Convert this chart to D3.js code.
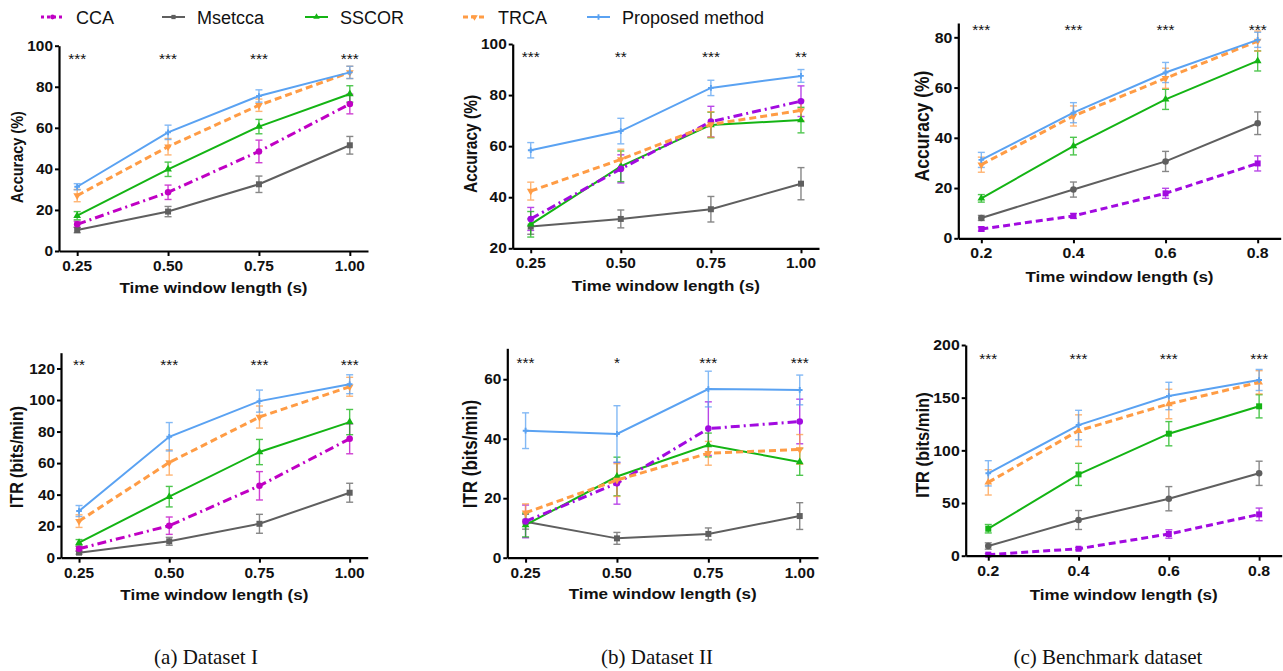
<!DOCTYPE html>
<html>
<head>
<meta charset="utf-8">
<script src="https://cdn.jsdelivr.net/npm/d3@7"></script>
<style>
  body { margin: 0; background: #fff; }
  svg { display: block; }
</style>
</head>
<body>
<div id="chart"></div>
<script>
// ---- data (order: CCA, Msetcca, SSCOR, TRCA, Proposed method) ----
const methods = ["CCA", "Msetcca", "SSCOR", "TRCA", "Proposed method"];
const winI = [0.25, 0.5, 0.75, 1.0];
const winBench = [0.2, 0.4, 0.6, 0.8];
const xLabelsI = ["0.25", "0.50", "0.75", "1.00"];
const xLabelsBench = ["0.2", "0.4", "0.6", "0.8"];

const accI = [[13.0, 28.6, 48.5, 71.6], [10.2, 19.2, 32.5, 51.5], [17.2, 39.8, 60.6, 76.5], [27.0, 50.8, 71.0, 87.0], [31.3, 57.8, 75.5, 87.0]];
const accIErr = [[1.5, 3.5, 5.5, 4.8], [1.3, 2.5, 4.0, 4.3], [2.0, 3.5, 3.5, 4.0], [3.0, 4.0, 3.0, 3.0], [1.5, 3.5, 3.0, 3.0]];
const accII = [[31.5, 51.1, 69.6, 77.6], [28.5, 31.5, 35.3, 45.3], [29.4, 52.1, 68.3, 70.2], [42.4, 54.8, 68.5, 74.0], [58.4, 65.9, 82.8, 87.5]];
const accIIErr = [[4.5, 5.5, 6.0, 6.0], [3.0, 3.5, 5.0, 6.3], [5.0, 6.0, 5.0, 5.0], [3.5, 4.0, 5.0, 4.0], [3.0, 5.0, 3.0, 2.5]];
const accBench = [[3.7, 8.9, 17.9, 29.8], [8.1, 19.4, 30.6, 45.8], [15.9, 36.7, 55.3, 70.6], [29.3, 48.7, 63.7, 78.5], [31.2, 50.0, 66.0, 79.0]];
const accBenchErr = [[0.8, 1.0, 2.0, 3.0], [1.0, 3.0, 4.0, 4.5], [1.5, 3.5, 4.0, 4.0], [3.0, 4.0, 4.0, 4.0], [3.0, 4.0, 4.0, 3.0]];

const itrI = [[5.7, 20.3, 45.6, 75.4], [3.2, 10.4, 21.5, 41.2], [9.5, 38.7, 67.0, 86.0], [23.2, 60.4, 89.2, 108.4], [29.6, 76.7, 99.3, 110.0]];
const itrIErr = [[1.5, 5.5, 9.0, 9.5], [1.0, 2.5, 6.0, 6.0], [2.0, 6.5, 8.0, 8.0], [4.0, 8.0, 7.0, 6.0], [3.5, 9.0, 7.0, 6.0]];
const itrII = [[12.2, 25.0, 43.4, 45.8], [12.1, 6.5, 8.0, 14.0], [11.0, 27.3, 37.9, 32.2], [15.1, 26.1, 35.1, 36.4], [42.7, 41.6, 56.7, 56.4]];
const itrIIErr = [[5.5, 7.0, 9.0, 7.5], [2.5, 2.0, 2.0, 4.5], [4.0, 6.5, 4.0, 4.5], [3.0, 5.5, 4.0, 5.0], [6.0, 9.5, 6.0, 5.0]];
const itrBench = [[1.0, 6.6, 20.6, 39.2], [9.2, 33.9, 54.1, 78.2], [25.6, 77.2, 115.8, 141.8], [69.6, 118.7, 144.0, 164.6], [78.2, 124.0, 151.6, 166.8]];
const itrBenchErr = [[1.0, 1.0, 4.0, 6.0], [3.0, 9.0, 11.5, 11.5], [4.0, 10.5, 11.5, 11.0], [12.0, 15.0, 14.0, 11.0], [12.0, 14.0, 13.0, 10.0]];

const sigAccI = ["***", "***", "***", "***"];
const sigAccII = ["***", "**", "***", "**"];
const sigAccBench = ["***", "***", "***", "***"];
const sigItrI = ["**", "***", "***", "***"];
const sigItrII = ["***", "*", "***", "***"];
const sigItrBench = ["***", "***", "***", "***"];

const captions = ["(a) Dataset I", "(b) Dataset II", "(c) Benchmark dataset"];

// ---- styles ----
const gray = "#5f5f5f", green = "#14b414", orange = "#ff9c45", blue = "#5aa2f2";
const magenta = "#c000c4", violet = "#a20ae0";
const SX = 1.1; // figures are a bit stretched horizontally in the paper

const W = 1283, H = 671;
const svg = d3.select("#chart").append("svg").attr("width", W).attr("height", H);

function txt(g, x, y, s, size, opts) {
    opts = opts || {};
    const sx = opts.sx === undefined ? SX : opts.sx;
    let tr = "translate(" + x + "," + y + ") scale(" + sx + ",1)";
    if (opts.rotate) tr += " rotate(-90)";
    return g.append("text")
        .attr("transform", tr)
        .attr("text-anchor", opts.anchor || "middle")
        .attr("font-family", opts.family || "'Liberation Sans', Arial, sans-serif")
        .attr("font-weight", opts.weight || "bold")
        .attr("font-size", size)
        .attr("fill", "#111")
        .text(s);
}

function symbolFor(name) {
    switch (name) {
        case "circle": return d3.symbol().type(d3.symbolCircle).size(34)();
        case "square": return d3.symbol().type(d3.symbolSquare).size(36)();
        case "up": return d3.symbol().type(d3.symbolTriangle).size(26)();
        case "down": return d3.symbol().type(d3.symbolTriangle).size(26)();
        case "plus": return d3.symbol().type(d3.symbolCross).size(18)();
    }
}

function drawPanel(p) {
    const g = svg.append("g");
    const x = d3.scaleLinear().domain(p.xDomain).range([p.left, p.right]);
    const y = d3.scaleLinear().domain(p.yDomain).range([p.bottom, p.top]);

    const colors = [p.ccaColor, gray, green, orange, blue];
    const dashes = [p.ccaDash, null, null, "7,4", null];
    const widths = [3, 2, 2, 3, 2];

    // error bars first, then lines
    methods.forEach((m, k) => {
        const eg = g.append("g").attr("stroke", colors[k]).attr("stroke-width", 1.4).attr("opacity", 0.75);
        p.means[k].forEach((v, i) => {
            const cx = x(p.xVals[i]), e = p.errs[k][i];
            eg.append("line").attr("x1", cx).attr("x2", cx).attr("y1", y(v - e)).attr("y2", y(v + e));
            eg.append("line").attr("x1", cx - 3.5).attr("x2", cx + 3.5).attr("y1", y(v - e)).attr("y2", y(v - e));
            eg.append("line").attr("x1", cx - 3.5).attr("x2", cx + 3.5).attr("y1", y(v + e)).attr("y2", y(v + e));
        });
    });

    const line = d3.line().x((d, i) => x(p.xVals[i])).y(d => y(d));
    const order = [1, 2, 0, 3, 4];
    order.forEach(k => {
        g.append("path")
            .datum(p.means[k])
            .attr("d", line)
            .attr("fill", "none")
            .attr("stroke", colors[k])
            .attr("stroke-width", widths[k])
            .attr("stroke-dasharray", dashes[k]);
        g.selectAll(null).data(p.means[k]).enter().append("path")
            .attr("d", symbolFor(p.markers[k]))
            .attr("transform", (d, i) => "translate(" + x(p.xVals[i]) + "," + y(d) + ")" + (p.markers[k] === "down" ? " rotate(180)" : ""))
            .attr("fill", colors[k]);
    });

    // axes
    const xAxis = d3.axisBottom(x).tickValues(p.xVals).tickFormat((d, i) => p.xLabels[i]).tickSize(5).tickSizeOuter(0);
    const yAxis = d3.axisLeft(y).tickValues(p.yTicks).tickSize(4).tickSizeOuter(0);
    const gx = g.append("g").attr("transform", "translate(0," + p.bottom + ")").call(xAxis);
    const gy = g.append("g").attr("transform", "translate(" + p.left + ",0)").call(yAxis);
    [gx, gy].forEach(a => {
        a.select(".domain").attr("stroke", "#000").attr("stroke-width", 2.2);
        a.selectAll(".tick line").attr("stroke", "#000").attr("stroke-width", 2);
        a.selectAll(".tick text").remove();
    });
    p.xVals.forEach((v, i) => txt(g, x(v), p.bottom + 20, p.xLabels[i], p.tickSize));
    p.yTicks.forEach(v => txt(g, p.left - 6, y(v) + p.tickSize * 0.36, String(v), p.tickSize, { anchor: "end" }));

    // significance stars
    p.sig.forEach((s, i) => txt(g, x(p.xVals[i]), p.starY + 8, s, 14, { weight: "normal" }));

    // titles
    txt(g, (p.left + p.right) / 2, p.xTitleY, "Time window length (s)", 15.5);
    txt(g, p.yTitleX, p.yTitleY, p.yTitle, p.yTitleSize, { rotate: true, sx: 1.15 });
}

const mkAB = ["circle", "square", "up", "down", "plus"];

const panels = [
    { left: 59, right: 368, top: 45.7, bottom: 251, xDomain: [0.2, 1.05], yDomain: [0, 100], yTicks: [0, 20, 40, 60, 80, 100],
      xVals: winI, xLabels: xLabelsI, means: accI, errs: accIErr, sig: sigAccI, starY: 56,
      yTitle: "Accuracy (%)", yTitleX: 23, yTitleY: 157, yTitleSize: 14.5, xTitleY: 293, tickSize: 14,
      ccaColor: magenta, ccaDash: "9,4,2,4", markers: mkAB },
    { left: 512.7, right: 819, top: 44, bottom: 248.3, xDomain: [0.2, 1.05], yDomain: [20, 100], yTicks: [20, 40, 60, 80, 100],
      xVals: winI, xLabels: xLabelsI, means: accII, errs: accIIErr, sig: sigAccII, starY: 54,
      yTitle: "Accuracy (%)", yTitleX: 477, yTitleY: 144, yTitleSize: 15.5, xTitleY: 291, tickSize: 14,
      ccaColor: violet, ccaDash: "9,4,2,4", markers: mkAB },
    { left: 958.3, right: 1280.7, top: 23, bottom: 238.3, xDomain: [0.15, 0.85], yDomain: [0, 85.7], yTicks: [0, 20, 40, 60, 80],
      xVals: winBench, xLabels: xLabelsBench, means: accBench, errs: accBenchErr, sig: sigAccBench, starY: 27,
      yTitle: "Accuracy (%)", yTitleX: 929, yTitleY: 126, yTitleSize: 17.5, xTitleY: 282, tickSize: 14.4,
      ccaColor: violet, ccaDash: "7,4", markers: ["square", "circle", "up", "down", "plus"] },
    { left: 61, right: 367.7, top: 352.7, bottom: 557.7, xDomain: [0.2, 1.05], yDomain: [0, 130], yTicks: [0, 20, 40, 60, 80, 100, 120],
      xVals: winI, xLabels: xLabelsI, means: itrI, errs: itrIErr, sig: sigItrI, starY: 362,
      yTitle: "ITR (bits/min)", yTitleX: 23, yTitleY: 457, yTitleSize: 16, xTitleY: 600, tickSize: 14,
      ccaColor: magenta, ccaDash: "9,4,2,4", markers: mkAB },
    { left: 507.3, right: 818, top: 348.3, bottom: 557.7, xDomain: [0.2, 1.05], yDomain: [0, 70.4], yTicks: [0, 20, 40, 60],
      xVals: winI, xLabels: xLabelsI, means: itrII, errs: itrIIErr, sig: sigItrII, starY: 360,
      yTitle: "ITR (bits/min)", yTitleX: 477, yTitleY: 454, yTitleSize: 17, xTitleY: 599, tickSize: 14,
      ccaColor: violet, ccaDash: "9,4,2,4", markers: mkAB },
    { left: 965.7, right: 1281.7, top: 345, bottom: 555.7, xDomain: [0.15, 0.85], yDomain: [0, 200], yTicks: [0, 50, 100, 150, 200],
      xVals: winBench, xLabels: xLabelsBench, means: itrBench, errs: itrBenchErr, sig: sigItrBench, starY: 356,
      yTitle: "ITR (bits/min)", yTitleX: 929, yTitleY: 445, yTitleSize: 16.5, xTitleY: 600, tickSize: 14.4,
      ccaColor: violet, ccaDash: "7,4", markers: ["square", "circle", "square", "up", "plus"] }
];

panels.forEach(drawPanel);

// ---- legend ----
const legX = [41, 162, 305, 463, 587];
const legColors = [magenta, gray, green, orange, blue];
const legDash = ["3,3", null, null, "5,3", null];
const legMk = ["circle", "square", "up", "down", "plus"];
const leg = svg.append("g");
methods.forEach((m, k) => {
    leg.append("line").attr("x1", legX[k]).attr("x2", legX[k] + 23).attr("y1", 17).attr("y2", 17)
        .attr("stroke", legColors[k]).attr("stroke-width", k === 0 || k === 3 ? 3 : 2).attr("stroke-dasharray", legDash[k]);
    leg.append("path").attr("d", d3.symbol().type(legMk[k] === "circle" ? d3.symbolCircle : legMk[k] === "square" ? d3.symbolSquare : legMk[k] === "plus" ? d3.symbolCross : d3.symbolTriangle).size(18)())
        .attr("transform", "translate(" + (legX[k] + 11.5) + ",17)" + (legMk[k] === "down" ? " rotate(180)" : ""))
        .attr("fill", legColors[k]);
    txt(leg, legX[k] + 35, 23.5, m, 18, { anchor: "start", weight: "normal", sx: 1 });
});

// ---- captions ----
const capX = [206, 657, 1108];
captions.forEach((c, i) => txt(svg, capX[i], 664, c, 21, { weight: "normal", sx: 1, family: "'Liberation Serif', 'Times New Roman', serif" }));
</script>
</body>
</html>
